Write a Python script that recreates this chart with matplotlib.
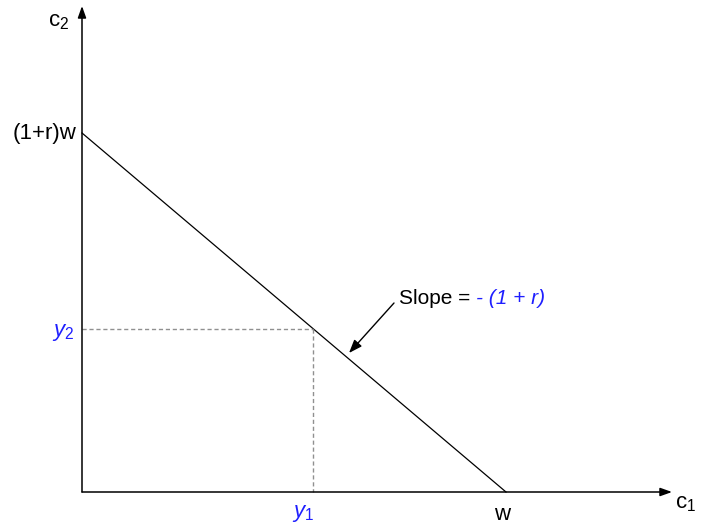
import matplotlib
matplotlib.use("Agg")
from matplotlib import pyplot as plt

# values in plot units (origin at the axes corner)
w = 424            # horizontal intercept
top = 359          # (1+r)w vertical intercept
y1 = 231           # endowment c1
y2 = top * (1 - y1 / w)   # endowment c2, on the budget line
x_end = 590        # end of c1 axis
y_end = 486        # end of c2 axis

blue = "#1f1fff"
fs = 16
plt.rcParams['font.family'] = ['Liberation Sans', 'DejaVu Sans']
plt.rcParams['mathtext.fontset'] = 'custom'
plt.rcParams['mathtext.rm'] = 'Liberation Sans'
plt.rcParams['mathtext.it'] = 'Liberation Sans:italic'

fig = plt.figure(figsize=(7.08, 5.32), dpi=100)
ax = fig.add_axes([0, 0, 1, 1])
ax.set_xlim(-82, 626)
ax.set_ylim(-40, 492)
ax.axis("off")

# axes with arrows
axis_arrow = dict(arrowstyle="-|>,head_length=0.7,head_width=0.25", color="black",
                  lw=1.1, shrinkA=0, shrinkB=0)
ax.annotate("", xy=(x_end, 0), xytext=(0, 0), arrowprops=axis_arrow)
ax.annotate("", xy=(0, y_end), xytext=(0, 0), arrowprops=axis_arrow)

# budget line
ax.plot([0, w], [top, 0], color="black", lw=0.9)

# dashed guides
ax.plot([0, y1], [y2, y2], color="#909090", lw=1, ls=(0, (3, 2)))
ax.plot([y1, y1], [y2, 0], color="#909090", lw=1, ls=(0, (3, 2)))

# slope annotation
ax.annotate("", xy=(267, 139), xytext=(312, 189),
            arrowprops=dict(arrowstyle="-|>,head_length=0.8,head_width=0.3", color="black",
                            lw=1, shrinkA=0, shrinkB=0))
t = ax.text(317, 194, "Slope = ", fontsize=fs - 1, ha="left", va="center")
fig.canvas.draw()
bb = t.get_window_extent()
xd = ax.transData.inverted().transform((bb.x1, 0))[0]
ax.text(xd, 194, "- (1 + r)", fontsize=fs - 1, ha="left", va="center", color=blue, style="italic")

# labels
ax.text(-6, top, "(1+r)w", fontsize=fs, ha="right", va="center")
ax.text(-34, 470, r"$\mathrm{c}_2$", fontsize=fs, ha="left", va="center")
ax.text(593, -12, r"$\mathrm{c}_1$", fontsize=fs, ha="left", va="center")
ax.text(w - 4, -22, "w", fontsize=fs, ha="center", va="center")
ax.text(-8, y2 - 4, r"$y_2$", fontsize=fs, ha="right", va="center", color=blue)
ax.text(y1 - 10, -22, r"$y_1$", fontsize=fs, ha="center", va="center", color=blue)

fig.savefig("out.png", dpi=100)
